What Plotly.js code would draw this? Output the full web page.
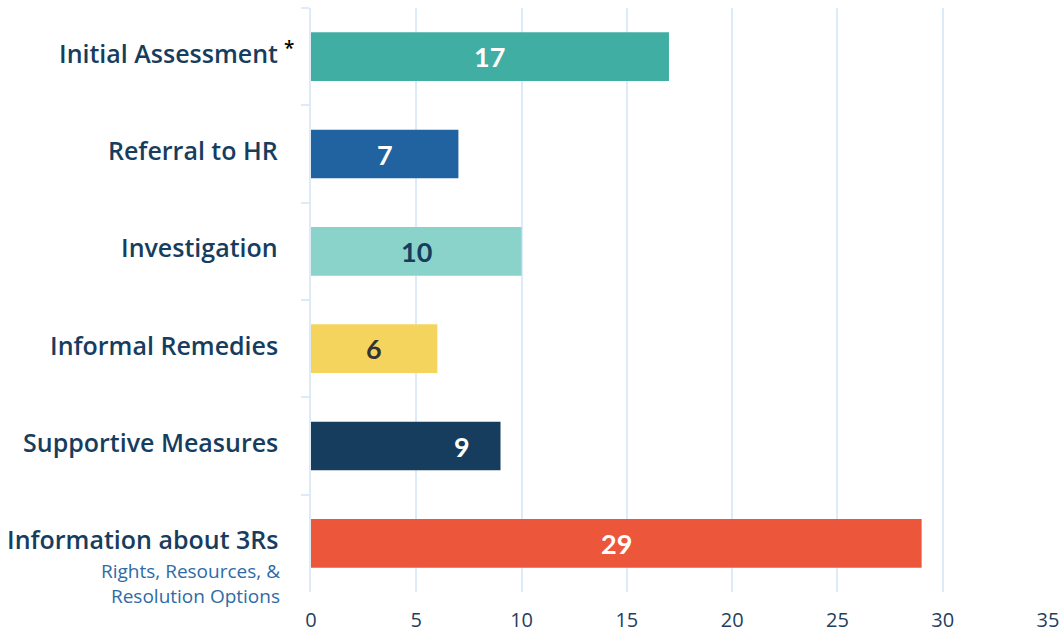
<!DOCTYPE html>
<html>
<head>
<meta charset="utf-8">
<script src="https://cdn.plot.ly/plotly-3.0.1.min.js"></script>
<style>html,body{margin:0;padding:0;background:#fff;}#chart{width:1063px;height:637px;}</style>
</head>
<body>
<div id="chart"></div>
<script>
const categories = ["Initial Assessment", "Referral to HR", "Investigation", "Informal Remedies", "Supportive Measures", "Information about 3Rs"];
const values = [17, 7, 10, 6, 9, 29];
const barColors = ["#40AEA3", "#2063A0", "#89D3CB", "#F5D45E", "#173D5E", "#EC573B"];
const labelColors = ["#ffffff", "#ffffff", "#173D5E", "#333333", "#ffffff", "#ffffff"];
const labelShift = [0, 0, 0, 0, 56, 0];
const subtitle = "Rights, Resources, &<br>Resolution Options";
const xTicks = [0, 5, 10, 15, 20, 25, 30, 35];

const navy = "#173D5E";
const fontFam = "Lato, 'Open Sans', sans-serif";
const catFont = "'Open Sans', sans-serif";

const trace = {
  type: "bar",
  orientation: "h",
  y: categories,
  x: values,
  marker: { color: barColors },
  hoverinfo: "none",
  width: 0.5
};

const annotations = [];
categories.forEach((c, i) => {
  annotations.push({
    xref: "paper", yref: "y", x: 0, y: c,
    xanchor: "right", yanchor: "middle",
    xshift: -31, yshift: 4,
    text: c,
    showarrow: false,
    font: { family: catFont, size: 25, weight: 600, color: navy }
  });
  annotations.push({
    xref: "x", yref: "y", x: values[i] / 2, y: c,
    xanchor: "center", yanchor: "middle",
    xshift: labelShift[i],
    text: "<b>" + values[i] + "</b>",
    showarrow: false,
    font: { family: fontFam, size: 27, color: labelColors[i] }
  });
});
annotations.push({
  xref: "paper", yref: "y", x: 0, y: categories[0],
  xanchor: "left", yanchor: "middle", xshift: -29, yshift: 9,
  text: "*", showarrow: false,
  font: { family: catFont, size: 19, weight: 600, color: "#000000" }
});
annotations.push({
  xref: "paper", yref: "y", x: 0, y: categories[5],
  xanchor: "right", yanchor: "top", xshift: -29, yshift: -13,
  text: subtitle, align: "right", showarrow: false,
  font: { family: catFont, size: 19, color: "#2E6BA6" }
});

const layout = {
  width: 1063, height: 637,
  margin: { l: 311, r: 15, t: 8, b: 45 },
  paper_bgcolor: "#ffffff", plot_bgcolor: "#ffffff",
  showlegend: false,
  bargap: 0.5,
  xaxis: {
    range: [0, 35],
    tickvals: xTicks,
    ticktext: xTicks.map(String),
    showgrid: true, gridcolor: "#DDEAF7", gridwidth: 2,
    zeroline: false, showline: false,
    ticks: "", ticklabelstandoff: 14,
    tickfont: { family: catFont, size: 20, color: "#1F3F5F" },
    fixedrange: true
  },
  yaxis: {
    type: "category",
    autorange: "reversed",
    showticklabels: false,
    showgrid: false, zeroline: false,
    showline: true, linecolor: "#DDEAF7", linewidth: 2,
    ticks: "outside", tickson: "boundaries", ticklen: 8, tickcolor: "#DDEAF7", tickwidth: 2,
    fixedrange: true
  },
  annotations: annotations
};

Plotly.newPlot("chart", [trace], layout, { staticPlot: true, displayModeBar: false });
</script>
</body>
</html>
